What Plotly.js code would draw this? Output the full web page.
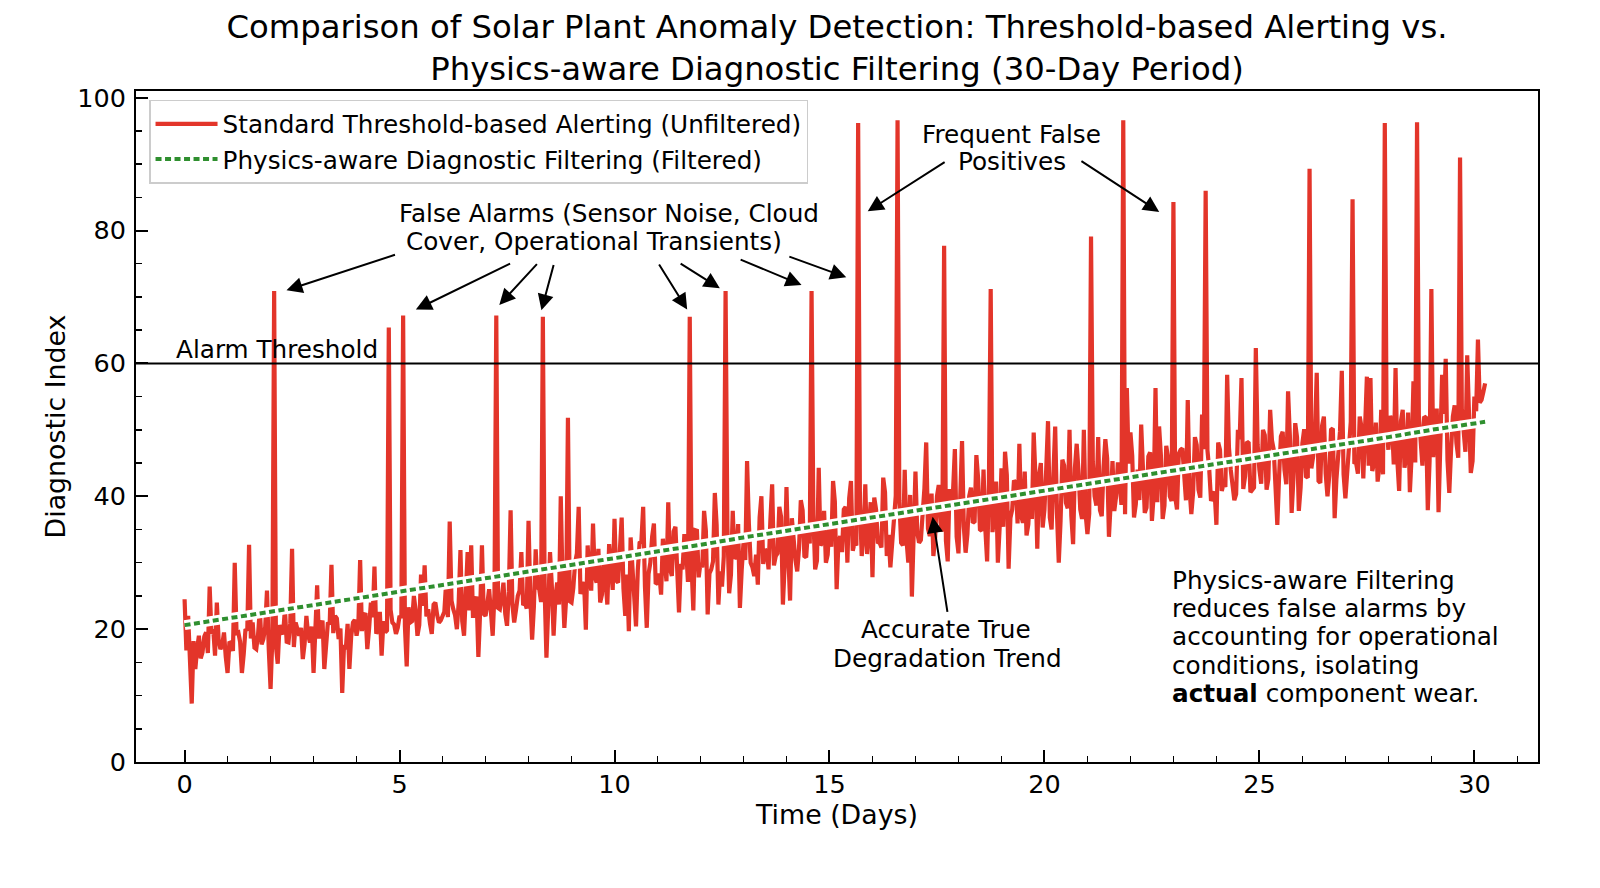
<!DOCTYPE html>
<html>
<head>
<meta charset="utf-8">
<script src="https://cdn.plot.ly/plotly-3.0.1.min.js"></script>
<style>
  html, body { margin: 0; padding: 0; background: #ffffff; }
  #chart { width: 1600px; height: 888px; }
</style>
</head>
<body>
<div id="chart"></div>
<script>
// ---------------- DATA ----------------
// Unfiltered diagnostic index: readings at even hours (12 per day), day 0 .. 30.25
const evenHourReadings = [
  24.5, 22, 8.8, 14, 19, 16.5, 19.5, 26.4, 20, 24, 17, 19.5,
  13.4, 18, 30, 19.5, 13.4, 20, 32.7, 21, 17, 23, 18.5, 25.8,
  11, 70.9, 14.8, 20, 23, 18, 32.1, 21, 19, 15.5, 22, 18,
  13.4, 26.6, 20, 14, 21, 29.7, 22, 18.5, 10.4, 17, 14, 21,
  19, 30.4, 22, 17, 24, 29.4, 20, 16, 19.5, 65.4, 21, 19.3,
  22, 67.2, 14.4, 21, 25, 19, 28.2, 29.6, 23, 19.3, 24, 21,
  22, 27, 36.2, 23, 20, 31.9, 19, 31.6, 32.6, 24, 15.8, 32.6,
  22, 26, 19, 67.2, 23, 27, 20.5, 37.9, 21, 25, 31.6, 24,
  36.3, 18.4, 32, 26, 67, 15.7, 31.6, 19, 27, 40, 20.2, 51.8,
  24, 30, 38.4, 26, 19.9, 28, 35.9, 27, 24, 31, 23.7, 28,
  36.6, 27, 36.8, 22, 19.7, 29, 20.4, 33, 38.4, 20.2, 30, 35.9,
  27, 25.2, 31, 39.1, 28, 35.4, 22.5, 29, 32, 67, 22.8, 34.8,
  30, 37.8, 22.2, 29, 40.5, 23.7, 26.4, 70.9, 25.4, 37.8, 31, 23.2,
  33, 45.3, 30, 28, 26.7, 40, 32, 29, 41.8, 31, 38.4, 23.7,
  41.4, 24.3, 33, 28.7, 39.4, 31, 35, 70.9, 29, 44.3, 33, 30,
  36, 42.3, 26, 34, 38, 30, 42.3, 33, 96.2, 31, 41.8, 35,
  27.8, 38, 33, 42.8, 31, 29.3, 37, 96.6, 33, 44, 30, 24.9,
  43.7, 33, 37, 48.1, 34, 31, 40, 36, 77.7, 30.2, 38, 47.1,
  31.4, 48.3, 31.5, 40, 36, 46.2, 35, 44, 30.2, 71.2, 37, 30,
  44.2, 46.7, 29.1, 38, 42, 47.9, 36, 34.1, 41, 49.6, 32.1, 45,
  38, 51.3, 35, 50.5, 30, 45.5, 39, 50, 32.8, 47.9, 38, 50,
  34.3, 79.1, 40, 48.9, 37, 48.6, 33.9, 45.3, 40, 41, 96.6, 56.3,
  49.6, 36.8, 44, 50.8, 37.5, 46, 36.3, 56.3, 50.5, 36.6, 47.6, 40,
  84.3, 38, 47, 42, 54.5, 37.3, 48.9, 41, 52.3, 86, 44, 40,
  35.7, 47, 42, 58.3, 44, 39.4, 50, 57.8, 43, 48, 40.9, 62.3,
  44, 50, 41, 53, 47, 35.7, 49, 44, 55.8, 37.5, 51, 37.8,
  48, 43, 89.3, 46, 58.6, 42, 52, 40, 50, 36.7, 47, 58.9,
  39.7, 49, 84.7, 45, 52, 42.7, 58, 57.8, 45, 42.2, 53, 96.2,
  47, 51, 59.3, 40.8, 53, 46, 40.6, 57.3, 96.3, 48, 52, 37.9,
  71.2, 50, 37.6, 58.3, 60.7, 40.5, 52, 48, 91, 50, 61.2, 43.5,
  55, 63.6, 54.5, 57
];
// Unfiltered diagnostic index: readings at odd hours (between the even-hour readings)
const oddHourReadings = [
  16.8, 14.9, 18.2, 17.1, 15.6, 18.9, 16.4, 19.3, 16.0, 18.4, 17.6, 15.8,
  17.9, 16.7, 19.4, 18.1, 16.2, 19.8, 18.6, 17.2, 19.1, 17.7, 20.3, 16.9,
  18.7, 17.4, 20.6, 19.2, 18.1, 20.9, 17.3, 19.6, 20.2, 17.8, 19.1, 20.4,
  19.8, 18.6, 21.3, 18.2, 20.7, 19.4, 21.6, 20.1, 17.6, 20.8, 18.9, 21.4,
  20.6, 19.7, 22.4, 20.1, 21.8, 19.3, 22.6, 21.2, 19.8, 22.9, 20.7, 20.2,
  21.7, 20.4, 23.3, 21.2, 22.8, 20.6, 23.5, 21.9, 20.8, 23.7, 22.1, 21.3,
  22.6, 21.8, 24.3, 22.1, 23.9, 21.2, 24.6, 22.8, 21.7, 24.9, 22.7, 22.3,
  23.8, 22.6, 25.4, 23.2, 24.7, 22.3, 25.6, 23.7, 22.9, 25.8, 23.6, 23.1,
  24.7, 23.4, 26.3, 24.1, 25.9, 23.2, 26.6, 24.8, 23.7, 26.9, 24.6, 24.2,
  26.2, 31.4, 25.3, 27.1, 32.6, 25.8, 27.9, 32.1, 25.2, 27.4, 32.8, 25.9,
  27.3, 32.7, 26.1, 28.2, 33.8, 26.7, 28.9, 33.2, 26.4, 28.3, 33.9, 26.8,
  28.4, 33.6, 27.2, 29.1, 34.7, 27.9, 29.8, 34.3, 27.1, 29.6, 34.9, 27.8,
  29.3, 34.8, 28.4, 30.2, 35.7, 28.7, 30.9, 35.4, 28.2, 30.6, 35.8, 28.9,
  30.4, 35.9, 29.3, 31.2, 36.8, 29.8, 31.7, 36.3, 29.6, 31.4, 36.9, 29.7,
  31.3, 36.7, 30.4, 32.1, 37.9, 30.8, 32.9, 37.2, 30.3, 32.6, 37.8, 31.2,
  32.4, 39.2, 33.1, 31.6, 38.4, 39.7, 31.8, 32.6, 38.9, 34.1, 31.3, 39.1,
  39.8, 33.1, 32.3, 40.6, 34.2, 33.7, 40.1, 39.3, 32.6, 33.4, 40.2, 32.8,
  34.6, 33.4, 41.2, 35.1, 40.4, 33.8, 41.7, 34.7, 33.3, 41.1, 40.9, 33.9,
  42.1, 35.4, 34.3, 41.3, 36.2, 42.6, 34.8, 35.1, 41.8, 34.6, 42.2, 35.3,
  35.4, 43.2, 36.7, 42.4, 35.9, 37.1, 43.7, 35.8, 36.6, 42.9, 43.1, 35.3,
  44.1, 36.8, 43.3, 37.4, 36.3, 44.6, 38.2, 37.1, 44.2, 43.8, 36.6, 37.3,
  37.4, 45.2, 38.6, 37.9, 44.4, 45.7, 39.1, 37.8, 45.1, 38.7, 37.3, 44.9,
  46.1, 38.8, 39.4, 45.3, 38.3, 46.6, 40.2, 39.1, 46.2, 38.6, 45.8, 39.3,
  39.9, 46.4, 47.2, 39.4, 41.1, 40.6, 47.7, 39.8, 47.1, 46.9, 39.3, 40.7,
  48.1, 40.8, 41.4, 47.3, 42.2, 40.3, 48.6, 41.1, 48.2, 40.6, 41.3, 47.8,
  41.9, 49.2, 42.6, 48.4, 41.4, 43.1, 49.7, 41.8, 49.1, 42.7, 48.9, 41.3,
  50.1, 42.8, 44.2, 49.3, 42.3, 50.6, 43.4, 43.1, 50.2, 42.6, 49.8, 43.3,
  43.9, 51.2, 45.1, 43.4, 50.4, 51.7, 44.6, 43.8, 51.1, 44.7, 43.3, 50.9,
  52.1, 44.8, 45.4, 51.3, 44.3, 52.6, 46.2, 45.1, 52.2, 44.6, 51.8, 45.3,
  45.9, 53.2, 46.6, 52.4, 45.4, 47.1, 53.7, 45.8, 53.1, 46.7, 52.9, 45.3,
  52.8, 54.1, 55.7
];
const hoursPerDay = 24;

// Physics-aware filtered index, read at each day
const filteredDays = [0,1,2,3,4,5,6,7,8,9,10,11,12,13,14,15,16,17,18,19,20,21,22,23,24,25,26,27,28,29,30,30.25];
const filteredIndex = [20.6,21.6,22.6,23.6,24.6,25.7,26.7,27.7,28.7,29.7,30.7,31.7,32.7,33.8,34.8,35.8,
                       36.8,37.8,38.8,39.8,40.8,41.9,42.9,43.9,44.9,45.9,46.9,47.9,48.9,50.0,51.0,51.2];

const alarmThreshold = 60;

const seriesNames = ['Standard Threshold-based Alerting (Unfiltered)', 'Physics-aware Diagnostic Filtering (Filtered)'];
const titleLines = ['Comparison of Solar Plant Anomaly Detection: Threshold-based Alerting vs.',
                    'Physics-aware Diagnostic Filtering (30-Day Period)'];
const xTitle = 'Time (Days)';
const yTitle = 'Diagnostic Index';

// Annotation texts
const thresholdLabel = 'Alarm Threshold';
const falseAlarmLines = ['False Alarms (Sensor Noise, Cloud', 'Cover, Operational Transients)'];
const frequentLines = ['Frequent False', 'Positives'];
const trendLines = ['Accurate True', 'Degradation Trend'];
const noteLines = ['Physics-aware Filtering', 'reduces false alarms by', 'accounting for operational',
                   'conditions, isolating', '<b>actual</b> component wear.'];

// Arrow targets [day, index] (points the arrows aim at)
const falseAlarmTargets = [[2.37,71.0],[5.38,68.1],[7.32,68.8],[8.30,68.0],[11.69,68.1],[12.45,71.3],[14.35,71.8],[15.39,72.95]];
const frequentTargets = [[15.89,82.9],[22.67,82.8]];
const trendTarget = [17.40,36.9];

// ---------------- BUILD ----------------
const FONT = 'DejaVu Sans, Verdana, sans-serif';
const unfilteredIndex = [];
evenHourReadings.forEach((v, k) => {
  unfilteredIndex.push(v);
  if (k < oddHourReadings.length) unfilteredIndex.push(oddHourReadings[k]);
});
const timeDays = unfilteredIndex.map((_, i) => i / hoursPerDay);

const traces = [
  { x: timeDays, y: unfilteredIndex, type: 'scatter', mode: 'lines', name: seriesNames[0],
    line: { color: '#e3352a', width: 4.2 }, hoverinfo: 'skip' },
  { x: filteredDays, y: filteredIndex, type: 'scatter', mode: 'lines', showlegend: false,
    line: { color: '#ffffff', width: 10 }, hoverinfo: 'skip' },
  { x: filteredDays, y: filteredIndex, type: 'scatter', mode: 'lines', name: seriesNames[1],
    line: { color: '#2f8f2f', width: 4, dash: '6px,3.5px' }, hoverinfo: 'skip' }
];

const textFont = { family: FONT, size: 24.7, color: 'black' };
function label(txt, x, y, xanchor) {
  return { text: txt, x: x, y: y, xref: 'x', yref: 'y', showarrow: false,
           xanchor: xanchor || 'center', yanchor: 'middle', font: textFont };
}
function arrow(target, ax, ay) {
  return { text: '', x: target[0], y: target[1], xref: 'x', yref: 'y', showarrow: true,
           ax: ax, ay: ay, axref: 'pixel', ayref: 'pixel', arrowhead: 2, arrowsize: 1.6,
           arrowwidth: 2, arrowcolor: 'black', standoff: 0, startstandoff: 0 };
}

const falseAlarmOffsets = [[110,-36],[95.7,-46.6],[39,-42.3],[12.6,-46.7],[-29,-46.6],[-40.7,-25.6],[-62.4,-26],[-58.4,-21.3]];
const frequentOffsets = [[78.4,-50],[-79.3,-51.7]];

const annotations = [];
annotations.push(label(thresholdLabel, -0.25, 62.1, 'left'));
annotations.push(label(falseAlarmLines[0], 9.87, 82.6));
annotations.push(label(falseAlarmLines[1], 9.53, 78.3));
annotations.push(label(frequentLines[0], 19.24, 94.5));
annotations.push(label(frequentLines[1], 19.24, 90.4));
annotations.push(label(trendLines[0], 17.72, 19.87));
annotations.push(label(trendLines[1], 17.74, 15.65));
const noteY = [27.39, 23.13, 18.86, 14.6, 10.34];
noteLines.forEach((t, i) => annotations.push(label(t, 22.92, noteY[i], 'left')));
falseAlarmTargets.forEach((t, i) => annotations.push(arrow(t, falseAlarmOffsets[i][0], falseAlarmOffsets[i][1])));
frequentTargets.forEach((t, i) => annotations.push(arrow(t, frequentOffsets[i][0], frequentOffsets[i][1])));
annotations.push(arrow(trendTarget, 15, 96.6));

const xMinor = []; for (let d = 1; d <= 31; d++) if (d % 5 !== 0) xMinor.push(d);
const yMinor = []; for (let v = 5; v < 100; v += 5) if (v % 20 !== 0) yMinor.push(v);

const layout = {
  width: 1600, height: 888,
  margin: { l: 136, r: 62, t: 91, b: 126, pad: 0 },
  paper_bgcolor: '#ffffff', plot_bgcolor: '#ffffff',
  font: { family: FONT, size: 24, color: 'black' },
  title: { text: titleLines.join('<br>'), font: { family: FONT, size: 32.3, color: 'black' },
           x: 0.5, xref: 'paper', xanchor: 'center', y: 1 - 38 / 888, yref: 'container', yanchor: 'middle' },
  xaxis: {
    range: [-1.13, 31.48], tickmode: 'linear', tick0: 0, dtick: 5,
    ticks: 'inside', ticklen: 12, tickwidth: 2, tickcolor: 'black',
    showline: true, linecolor: 'black', linewidth: 2, mirror: true,
    showgrid: false, zeroline: false, tickfont: { family: FONT, size: 25.5, color: 'black' },
    ticklabelstandoff: -2,
    minor: { tickmode: 'array', tickvals: xMinor, ticks: 'inside', ticklen: 6, tickwidth: 1.5, tickcolor: 'black', showgrid: false },
    title: { text: xTitle, font: { family: FONT, size: 26.8, color: 'black' }, standoff: 8 }
  },
  yaxis: {
    range: [0, 101], tickmode: 'linear', tick0: 0, dtick: 20,
    ticks: 'inside', ticklen: 12, tickwidth: 2, tickcolor: 'black',
    showline: true, linecolor: 'black', linewidth: 2, mirror: true,
    showgrid: false, zeroline: false, tickfont: { family: FONT, size: 25.5, color: 'black' },
    ticklabelstandoff: 3,
    minor: { tickmode: 'array', tickvals: yMinor, ticks: 'inside', ticklen: 6, tickwidth: 1.5, tickcolor: 'black', showgrid: false },
    title: { text: yTitle, font: { family: FONT, size: 26.8, color: 'black' }, standoff: 4 }
  },
  showlegend: true,
  legend: { x: 0.0093, y: 0.987, xanchor: 'left', yanchor: 'top',
            bgcolor: 'rgba(255,255,255,0.9)', bordercolor: '#cccccc', borderwidth: 1.5,
            font: { family: FONT, size: 24.7, color: 'black' }, itemwidth: 62, tracegroupgap: 0 },
  shapes: [{ type: 'line', xref: 'paper', x0: 0, x1: 1, yref: 'y', y0: alarmThreshold, y1: alarmThreshold,
             line: { color: 'black', width: 2 }, layer: 'above' }],
  annotations: annotations
};

Plotly.newPlot('chart', traces, layout, { displayModeBar: false, staticPlot: true });
</script>
</body>
</html>
